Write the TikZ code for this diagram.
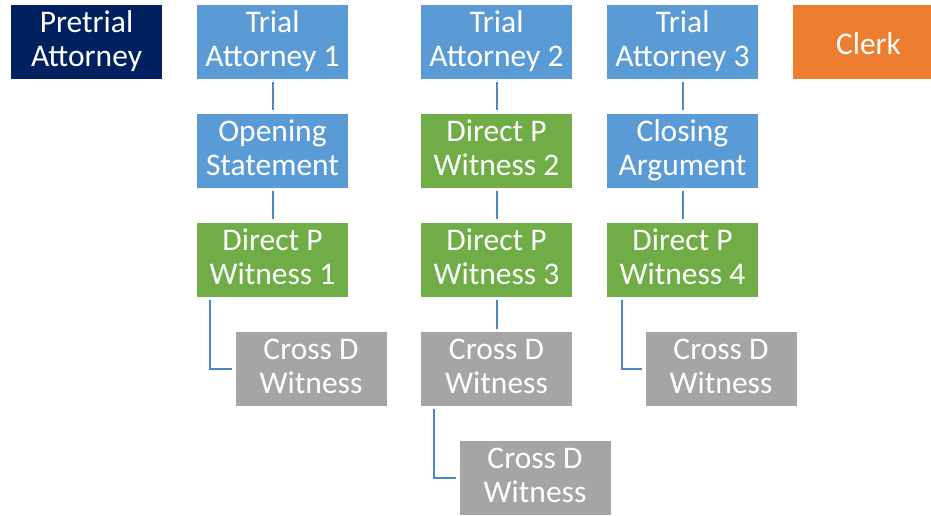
\documentclass[tikz,border=0pt]{standalone}
\usepackage{fontspec}
\setmainfont{Carlito}
\definecolor{navyfill}{HTML}{002060}
\definecolor{bluefill}{HTML}{5B9BD5}
\definecolor{greenfill}{HTML}{70AD47}
\definecolor{grayfill}{HTML}{A5A5A5}
\definecolor{orangefill}{HTML}{ED7D31}
\definecolor{linkcol}{HTML}{4F85C0}

\begin{document}
\begin{tikzpicture}[x=1pt,y=-1pt,
  box/.style={minimum width=151pt,minimum height=74pt,inner sep=0pt,
    align=center,text=white,font=\fontsize{31.5}{34}\selectfont,
    execute at begin node=\rule{0pt}{30pt},
    execute at end node=\rule[-6pt]{0pt}{6pt}},
  lead/.style={box,fill=navyfill},
  trial/.style={box,fill=bluefill},
  witness/.style={box,fill=greenfill},
  cross/.style={box,fill=grayfill},
  clerkbox/.style={box,fill=orangefill},
  link/.style={draw=linkcol,line width=2pt,shorten <=3pt,shorten >=3pt}]
  \clip (0,0) rectangle (931,515);

  % top row
  \node[lead] (pre) at (86.5,42) {Pretrial\\Attorney};
  \node[trial] (ta1) at (272.5,42) {Trial\\Attorney 1};
  \node[trial] (ta2) at (496.5,42) {Trial\\Attorney 2};
  \node[trial] (ta3) at (682.5,42) {Trial\\Attorney 3};
  \node[clerkbox] (clerk) at (868.5,42) {Clerk};

  % column 1
  \node[trial] (open) at (272.5,150.5) {Opening\\Statement};
  \node[witness] (dp1) at (272.5,259.5) {Direct P\\Witness 1};
  \node[cross] (cd1) at (311,369) {Cross D\\Witness};

  % column 2
  \node[witness] (dp2) at (496.5,150.5) {Direct P\\Witness 2};
  \node[witness] (dp3) at (496.5,259.5) {Direct P\\Witness 3};
  \node[cross] (cd2) at (496.5,369) {Cross D\\Witness};
  \node[cross] (cd3) at (535,478) {Cross D\\Witness};

  % column 3
  \node[trial] (close) at (682.5,150.5) {Closing\\Argument};
  \node[witness] (dp4) at (682.5,259.5) {Direct P\\Witness 4};
  \node[cross] (cd4) at (721,369) {Cross D\\Witness};

  % connectors
  \draw[link] (ta1) -- (open);
  \draw[link] (open) -- (dp1);
  \draw[link] ([xshift=-62.5pt]dp1.south) |- (cd1.west);

  \draw[link] (ta2) -- (dp2);
  \draw[link] (dp2) -- (dp3);
  \draw[link] (dp3) -- (cd2);
  \draw[link] ([xshift=-62.5pt]cd2.south) |- (cd3.west);

  \draw[link] (ta3) -- (close);
  \draw[link] (close) -- (dp4);
  \draw[link] ([xshift=-61pt]dp4.south) |- (cd4.west);
\end{tikzpicture}
\end{document}
